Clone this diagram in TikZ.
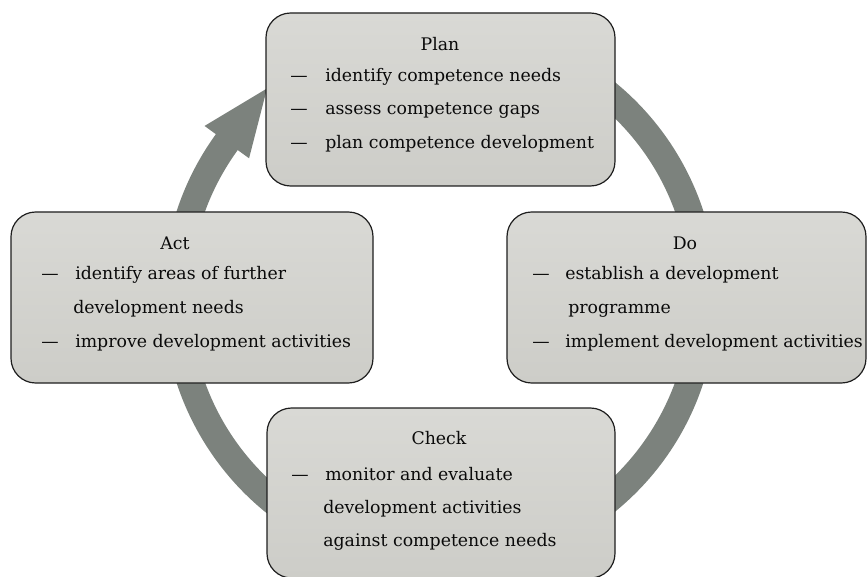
\documentclass[tikz,border=0pt]{standalone}
\usepackage{fontspec}
\setmainfont{DejaVu Serif}
\usetikzlibrary{calc}
\definecolor{boxfill}{RGB}{212,212,207}
\definecolor{boxtop}{RGB}{217,217,213}
\definecolor{boxbot}{RGB}{205,205,200}
\definecolor{ringcol}{RGB}{124,130,125}
\definecolor{edgecol}{RGB}{30,30,30}
\definecolor{txt}{RGB}{10,10,10}
\begin{document}
\begin{tikzpicture}[x=0.75pt,y=-0.75pt,
  pbox/.style={draw=edgecol, line width=0.9pt, top color=boxtop, bottom color=boxbot,
    rounded corners=18.5pt, inner sep=0pt},
  ttl/.style={anchor=base, inner sep=0pt, font=\fontsize{13}{16}\selectfont, text=txt},
  itm/.style={anchor=base west, inner sep=0pt, font=\fontsize{13}{16}\selectfont, text=txt}]
\useasboundingbox (0,0) rectangle (867,577);

% cycle arrow (behind the boxes)
\coordinate (c) at (440,297);
\coordinate (hout) at ($(c)+(216:291)$);
\coordinate (hin) at ($(c)+(216:236)$);
\coordinate (sin) at ($(c)+(216:250)$);
\coordinate (tip) at (267,88.5);
\fill[ringcol] ($(c)+(-80:277)$) arc[start angle=-80, end angle=216, radius=277]
  -- (hout) -- (tip) -- (hin) -- (sin)
  arc[start angle=216, end angle=-80, radius=250] -- cycle;

% boxes
\node[pbox, minimum width=261.75pt, minimum height=129.75pt] (plan) at (440.5,99.5) {};
\node[pbox, minimum width=271.5pt, minimum height=128.25pt] (act) at (192,297.5) {};
\node[pbox, minimum width=269.25pt, minimum height=128.25pt] (do) at (686.5,297.5) {};
\node[pbox, minimum width=261pt, minimum height=127.5pt] (check) at (441,493) {};

% Plan
\node[ttl] (planT) at (440,51) {Plan};
\node[itm] (planD1) at (290,82) {—};
\node[itm] (planL1) at (325,82) {identify competence needs};
\node[itm] (planD2) at (290,115) {—};
\node[itm] (planL2) at (325,115) {assess competence gaps};
\node[itm] (planD3) at (290,149) {—};
\node[itm] (planL3) at (325,149) {plan competence development};

% Act
\node[ttl] (actT) at (175,250) {Act};
\node[itm] (actD1) at (41,280) {—};
\node[itm] (actL1) at (75,280) {identify areas of further};
\node[itm] (actL1b) at (73,313) {development needs};
\node[itm] (actD2) at (41,347) {—};
\node[itm] (actL2) at (75,347) {improve development activities};

% Do
\node[ttl] (doT) at (685,250) {Do};
\node[itm] (doD1) at (532,280) {—};
\node[itm] (doL1) at (565,280) {establish a development};
\node[itm] (doL1b) at (568,313) {programme};
\node[itm] (doD2) at (532,347) {—};
\node[itm] (doL2) at (565,347) {implement development activities};

% Check
\node[ttl] (checkT) at (439,444) {Check};
\node[itm] (checkD1) at (291,480) {—};
\node[itm] (checkL1) at (325,480) {monitor and evaluate};
\node[itm] (checkL1b) at (323,513) {development activities};
\node[itm] (checkL1c) at (323,546) {against competence needs};
\end{tikzpicture}
\end{document}
